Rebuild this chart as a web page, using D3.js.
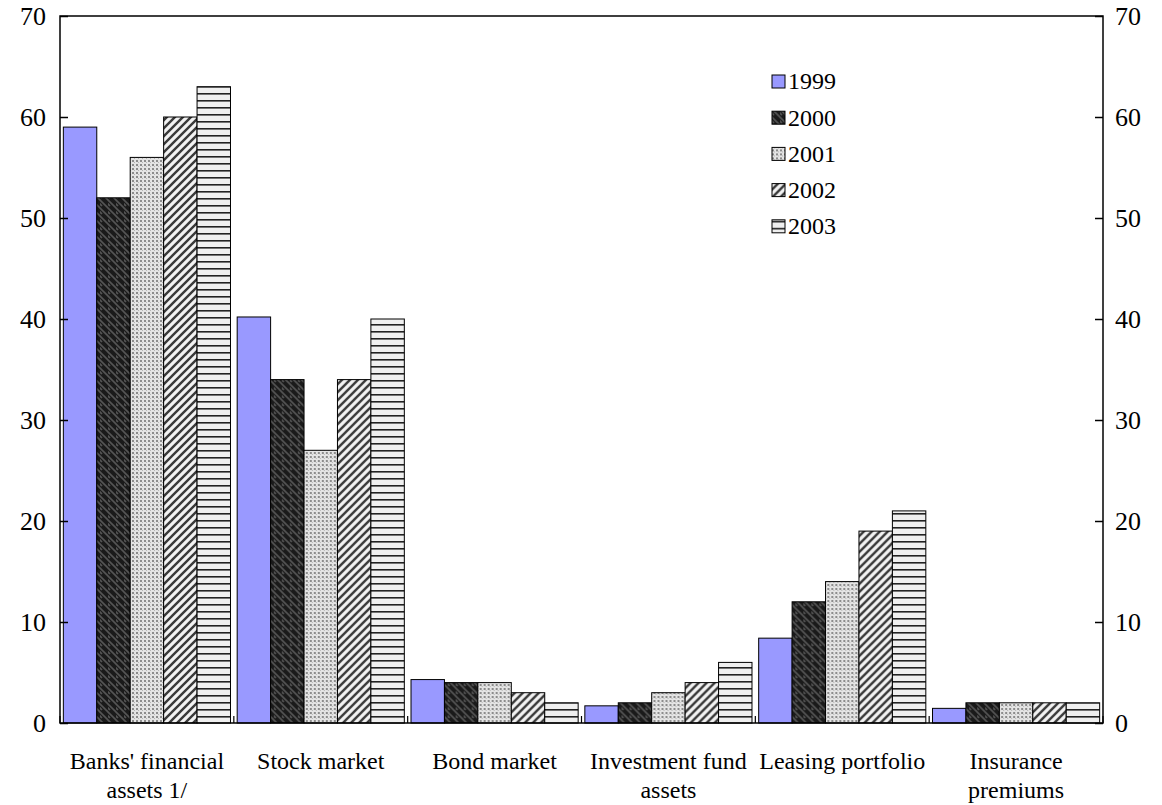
<!DOCTYPE html>
<html>
<head>
<meta charset="utf-8">
<script src="https://cdn.jsdelivr.net/npm/d3@7"></script>
<style>
  html, body { margin: 0; padding: 0; background: #fff; }
  svg { display: block; }
  text { font-family: "Liberation Serif", "Times New Roman", serif; fill: #000; }
</style>
</head>
<body>
<svg id="chart" width="1162" height="805"></svg>
<script>
// Financial sector indicators, 1999-2003
const categories = [
  ["Banks' financial", "assets 1/"],
  ["Stock market"],
  ["Bond market"],
  ["Investment fund", "assets"],
  ["Leasing portfolio"],
  ["Insurance", "premiums"]
];
const years = ["1999", "2000", "2001", "2002", "2003"];
const values1999 = [59, 40.2, 4.3, 1.7, 8.4, 1.45];
const values2000 = [52, 34, 4, 2, 12, 2];
const values2001 = [56, 27, 4, 3, 14, 2];
const values2002 = [60, 34, 3, 4, 19, 2];
const values2003 = [63, 40, 2, 6, 21, 2];
const series = [values1999, values2000, values2001, values2002, values2003];
const yTicks = [0, 10, 20, 30, 40, 50, 60, 70];

const svg = d3.select("#chart");
const margin = { left: 60, right: 59, top: 16, bottom: 82 };
const W = 1162, H = 805;
const x0 = margin.left, x1 = W - margin.right;
const y0 = H - margin.bottom, y1 = margin.top;

// Fill patterns for each year
const defs = svg.append("defs");
const p2000 = defs.append("pattern").attr("id", "p2000").attr("patternUnits", "userSpaceOnUse")
  .attr("width", 8).attr("height", 8);
p2000.append("rect").attr("width", 8).attr("height", 8).attr("fill", "#1a1a1a");
p2000.append("path").attr("d", "M-2,2 L2,6 M0,0 L8,8 M6,-2 L10,2 M-4,4 L4,12 M4,-4 L12,4")
  .attr("stroke", "#555").attr("stroke-width", 1.6);

const p2001 = defs.append("pattern").attr("id", "p2001").attr("patternUnits", "userSpaceOnUse")
  .attr("width", 4).attr("height", 4);
p2001.append("rect").attr("width", 4).attr("height", 4).attr("fill", "#e4e4e4");
p2001.append("rect").attr("x", 0).attr("y", 0).attr("width", 2).attr("height", 2).attr("fill", "#8c8c8c");
p2001.append("rect").attr("x", 2).attr("y", 2).attr("width", 1).attr("height", 1).attr("fill", "#b5b5b5");

const p2002 = defs.append("pattern").attr("id", "p2002").attr("patternUnits", "userSpaceOnUse")
  .attr("width", 8).attr("height", 8);
p2002.append("rect").attr("width", 8).attr("height", 8).attr("fill", "#f2f2f2");
p2002.append("path").attr("d", "M0,8 L8,0 M-4,4 L4,-4 M4,12 L12,4")
  .attr("stroke", "#3a3a3a").attr("stroke-width", 2.4);

const p2003 = defs.append("pattern").attr("id", "p2003").attr("patternUnits", "userSpaceOnUse")
  .attr("width", 8).attr("height", 7).attr("y", 2);
p2003.append("rect").attr("width", 8).attr("height", 7).attr("fill", "#efefef");
p2003.append("rect").attr("y", 0).attr("width", 8).attr("height", 1.6).attr("fill", "#222");

const fills = ["#9999ff", "url(#p2000)", "url(#p2001)", "url(#p2002)", "url(#p2003)"];

// Scales
const xCat = d3.scaleBand().domain(d3.range(categories.length)).range([x0, x1]).paddingInner(0).paddingOuter(0);
const xBar = d3.scaleBand().domain(d3.range(years.length)).range([0, xCat.bandwidth()]).paddingOuter(0.1).paddingInner(0);
const y = d3.scaleLinear().domain([0, 70]).range([y0, y1]);

// Bars
const groups = svg.append("g").selectAll("g").data(categories).join("g")
  .attr("transform", (d, i) => `translate(${xCat(i)},0)`);
groups.selectAll("rect")
  .data((d, i) => series.map((s, k) => ({ k, v: s[i] })))
  .join("rect")
  .attr("x", d => xBar(d.k))
  .attr("y", d => y(d.v))
  .attr("width", xBar.bandwidth())
  .attr("height", d => y(0) - y(d.v))
  .attr("fill", d => fills[d.k])
  .attr("stroke", "#000")
  .attr("stroke-width", 1);

// Left and right value axes (ticks pointing inward)
const leftAxis = d3.axisRight(y).tickValues(yTicks).tickSize(8).tickFormat("");
const rightAxis = d3.axisLeft(y).tickValues(yTicks).tickSize(8).tickFormat("");
svg.append("g").attr("transform", `translate(${x0},0)`).call(leftAxis)
  .call(g => g.select(".domain").remove())
  .selectAll("line").attr("stroke", "#000").attr("stroke-width", 1.5);
svg.append("g").attr("transform", `translate(${x1},0)`).call(rightAxis)
  .call(g => g.select(".domain").remove())
  .selectAll("line").attr("stroke", "#000").attr("stroke-width", 1.5);

// Tick labels
svg.append("g").selectAll("text").data(yTicks).join("text")
  .attr("x", x0 - 14).attr("y", d => y(d)).attr("dy", "0.33em")
  .attr("text-anchor", "end").attr("font-size", 26).text(d => d);
svg.append("g").selectAll("text").data(yTicks).join("text")
  .attr("x", x1 + 12).attr("y", d => y(d)).attr("dy", "0.33em")
  .attr("text-anchor", "start").attr("font-size", 26).text(d => d);

// Category separators on the baseline
svg.append("g").selectAll("line").data(d3.range(categories.length + 1)).join("line")
  .attr("x1", i => x0 + i * xCat.bandwidth()).attr("x2", i => x0 + i * xCat.bandwidth())
  .attr("y1", y0).attr("y2", y0 - 7)
  .attr("stroke", "#000").attr("stroke-width", 1.2);

// Plot frame
svg.append("rect").attr("x", x0).attr("y", y1).attr("width", x1 - x0).attr("height", y0 - y1)
  .attr("fill", "none").attr("stroke", "#000").attr("stroke-width", 1.5);

// Category labels
const labels = svg.append("g").selectAll("text").data(categories).join("text")
  .attr("text-anchor", "middle").attr("font-size", 24)
  .attr("transform", (d, i) => `translate(${xCat(i) + xCat.bandwidth() / 2},${y0 + 46})`);
labels.selectAll("tspan").data(d => d).join("tspan")
  .attr("x", 0).attr("dy", (d, j) => j === 0 ? 0 : 29).text(d => d);

// Legend
const legend = svg.append("g").attr("transform", "translate(772,81)");
const items = legend.selectAll("g").data(years).join("g")
  .attr("transform", (d, i) => `translate(0,${i * 36.2})`);
items.append("rect").attr("x", 0).attr("y", -6).attr("width", 13).attr("height", 13)
  .attr("fill", (d, i) => fills[i]).attr("stroke", "#000").attr("stroke-width", 1);
items.append("text").attr("x", 16).attr("y", 0).attr("dy", "0.35em")
  .attr("font-size", 24).text(d => d);
</script>
</body>
</html>
